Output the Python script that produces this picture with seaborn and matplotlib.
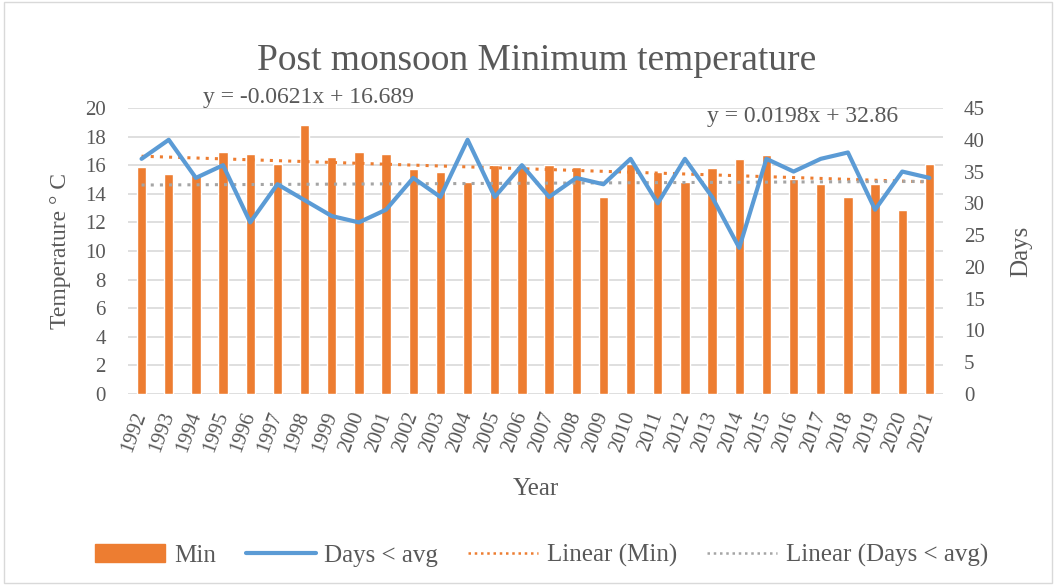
import numpy as np
import pandas as pd
import matplotlib
matplotlib.use("Agg")
import matplotlib.pyplot as plt
import seaborn as sns
from matplotlib.lines import Line2D
from matplotlib.patches import Patch, Rectangle

years = [str(y) for y in range(1992, 2022)]
min_temp = [15.9, 15.4, 15.3, 16.9, 16.8, 16.1, 18.8, 16.6, 16.9, 16.8,
            15.7, 15.5, 14.8, 16.0, 15.9, 16.0, 15.9, 13.8, 16.1, 15.5,
            14.8, 15.8, 16.4, 16.7, 15.0, 14.7, 13.8, 14.7, 12.9, 16.1]
days_below = [37, 40, 34, 36, 27, 33, 30.5, 28, 27, 29,
              34, 31, 40, 31, 36, 31, 34, 33, 37, 30,
              37, 31, 23, 37, 35, 37, 38, 29, 35, 34]
trend_min = (-0.0621, 16.689)
trend_days = (0.0198, 32.86)

ORANGE = "#ED7D31"
BLUE = "#5B9BD5"
GRAY = "#A5A5A5"
TXT = "#595959"

sns.set_theme(style="white")
plt.rcParams['font.family'] = ['Liberation Serif', 'DejaVu Serif']

df = pd.DataFrame({"Year": years, "Min": min_temp, "Days": days_below})
df["pos"] = np.arange(len(df))
xi = df["pos"].to_numpy() + 1

fig = plt.figure(figsize=(10.56, 5.85), dpi=100)
ax = fig.add_axes([0.1212, 0.3265, 0.7718, 0.4889])
ax2 = ax.twinx()

sns.barplot(data=df, x="Year", y="Min", color=ORANGE, width=0.34,
            saturation=1, ax=ax, zorder=2)
ax.plot(df["pos"], trend_min[0] * xi + trend_min[1], linestyle=(0, (1, 2)),
        color=ORANGE, lw=2.2, zorder=3)

sns.lineplot(data=df, x="pos", y="Days", color=BLUE, lw=3, ax=ax2, zorder=4)
ax2.plot(df["pos"], trend_days[0] * xi + trend_days[1], linestyle=(0, (1, 2)),
         color=GRAY, lw=2.2, zorder=3)

ax.set_xlim(-0.5, len(df) - 0.5)
ax.set_ylim(0, 20)
ax.set_yticks(np.arange(0, 21, 2))
ax2.set_ylim(0, 45)
ax2.set_yticks(np.arange(0, 46, 5))
ax.yaxis.grid(True, color="#D9D9D9", lw=1.2, zorder=0)
ax.set_axisbelow(True)
for a in (ax, ax2):
    for s in a.spines.values():
        s.set_visible(False)
    a.tick_params(length=0, labelsize=15, colors=TXT)
ax.tick_params(axis="y", pad=16)
ax2.tick_params(axis="y", pad=15)
ax.set_xticks(df["pos"])
ax.set_xticklabels(years, rotation=70, ha="right", va="center",
                   rotation_mode="anchor")
ax.tick_params(axis="x", pad=13)
ax.set_xlabel("Year", fontsize=18, color=TXT, labelpad=17)
ax.set_ylabel("Temperature ° C", fontsize=17, color=TXT, labelpad=10)
ax2.set_ylabel("Days", fontsize=18, color=TXT, labelpad=18)

ax.text(0.2215, 1.0, "y = -0.0621x + 16.689", transform=ax.transAxes,
        fontsize=17, color=TXT, ha="center", va="bottom")
ax.text(0.828, 0.935, "y = 0.0198x + 32.86", transform=ax.transAxes,
        fontsize=17, color=TXT, ha="center", va="bottom")

fig.text(0.508, 0.897, "Post monsoon Minimum temperature", fontsize=27,
         color=TXT, ha="center", va="center")

handles = [Patch(color=ORANGE),
           Line2D([0], [0], color=BLUE, lw=3),
           Line2D([0], [0], color=ORANGE, lw=1.8, linestyle=(0, (1, 1.5))),
           Line2D([0], [0], color=GRAY, lw=1.8, linestyle=(0, (1, 1.5)))]
labels = ["Min", "Days < avg", "Linear (Min)", "Linear (Days < avg)"]
fig.legend(handles, labels, loc="center", bbox_to_anchor=(0.513, 0.05),
           ncol=4, frameon=False, fontsize=18, labelcolor=TXT,
           handlelength=2.8, columnspacing=1.2, handletextpad=0.35)

fig.patches.append(Rectangle((0.004, 0.004), 0.992, 0.992,
                             transform=fig.transFigure, fill=False,
                             edgecolor="#D9D9D9", lw=1))

fig.savefig("out.png", dpi=100)
